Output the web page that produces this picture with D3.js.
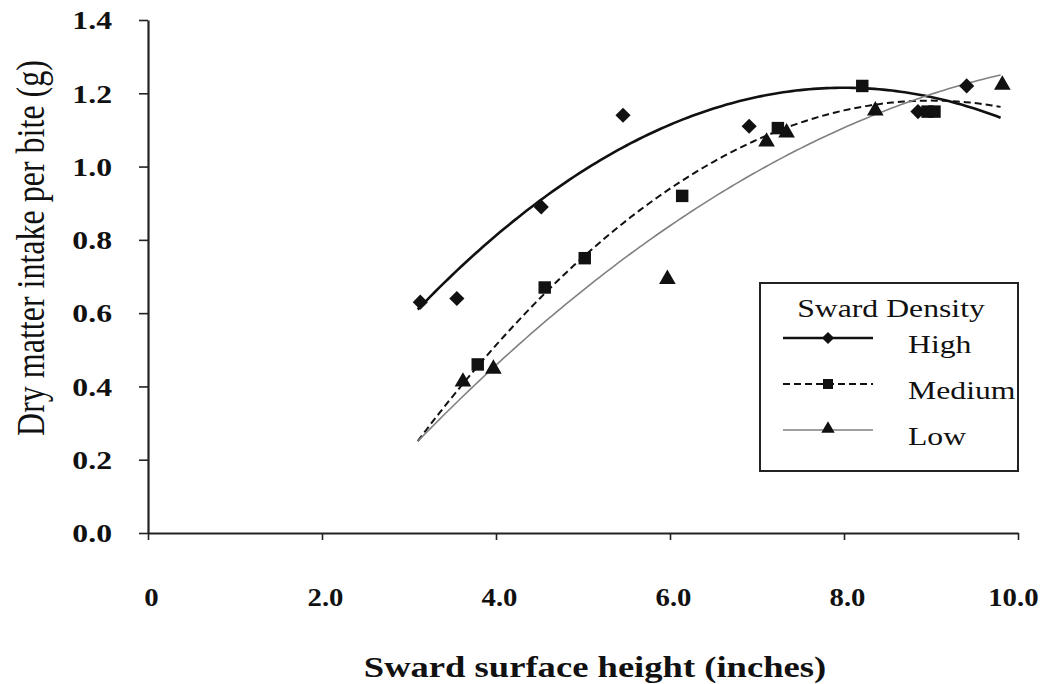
<!DOCTYPE html>
<html>
<head>
<meta charset="utf-8">
<script src="https://cdn.jsdelivr.net/npm/d3@7"></script>
<style>
  html, body { margin: 0; padding: 0; background: #fff; }
  svg { display: block; font-family: "Liberation Serif", "Times New Roman", serif; }
</style>
</head>
<body>
<svg id="chart" width="1040" height="684"></svg>
<script>
// ---- data ----
const seriesNames = ["High", "Medium", "Low"];
const highX = [3.13, 3.55, 4.52, 5.46, 6.91, 8.85, 9.41];
const highY = [0.63, 0.64, 0.89, 1.14, 1.11, 1.15, 1.22];
const mediumX = [3.79, 4.56, 5.02, 6.14, 7.24, 8.21, 8.96, 9.04];
const mediumY = [0.46, 0.67, 0.75, 0.92, 1.105, 1.22, 1.15, 1.15];
const lowX = [3.62, 3.97, 5.97, 7.11, 7.34, 8.36, 9.82];
const lowY = [0.41, 0.445, 0.69, 1.065, 1.09, 1.15, 1.22];
// quadratic trend-line coefficients [a, b, c] : y = a + b x + c x^2
const highFit = [-0.3978, 0.4032, -0.0252];
const mediumFit = [-0.9827, 0.4806, -0.0267];
const lowFit = [-0.6416, 0.3314, -0.01412];
const fitRange = [3.1, 9.8];
const xTickValues = [0, 2, 4, 6, 8, 10];
const xTickLabels = ["0", "2.0", "4.0", "6.0", "8.0", "10.0"];
const yTickValues = [0, 0.2, 0.4, 0.6, 0.8, 1.0, 1.2, 1.4];
const xTitle = "Sward surface height (inches)";
const yTitle = "Dry matter intake per bite (g)";
const legendTitle = "Sward Density";

// ---- drawing ----
const svg = d3.select("#chart");
const SX = 1.22; // horizontal stretch of the scanned text
const x = d3.scaleLinear().domain([0, 10]).range([148, 1018]);
const y = d3.scaleLinear().domain([0, 1.4]).range([533, 20]);

// axes
const xAxis = svg.append("g").attr("transform", "translate(0,533)")
  .call(d3.axisBottom(x).tickValues(xTickValues).tickSize(7).tickSizeOuter(0)
        .tickFormat((d, i) => xTickLabels[i]));
xAxis.select(".domain").attr("stroke", "#222").attr("stroke-width", 2.2);
xAxis.selectAll(".tick line").attr("stroke", "#222").attr("stroke-width", 1.6);
const nX = xTickValues.length;
xAxis.selectAll(".tick text")
  .attr("y", 0).attr("dy", null)
  .attr("text-anchor", (d, i) => i === nX - 1 ? "end" : "middle")
  .attr("transform", (d, i) => (i === nX - 1 ? "translate(20,73)" : "translate(3,73)") + " scale(1.15,1)")
  .attr("fill", "#111")
  .style("font-family", "'Liberation Serif', serif")
  .style("font-size", "25px").style("font-weight", "bold");

const yAxis = svg.append("g").attr("transform", "translate(148,0)")
  .call(d3.axisLeft(y).tickValues(yTickValues).tickSize(9).tickSizeOuter(0)
        .tickFormat(d3.format(".1f")));
yAxis.select(".domain").attr("stroke", "#222").attr("stroke-width", 2.2);
yAxis.selectAll(".tick line").attr("stroke", "#222").attr("stroke-width", 1.6);
yAxis.selectAll(".tick text")
  .attr("x", 0).attr("dy", "0.34em")
  .attr("transform", "translate(-36,0) scale(" + SX + ",1)")
  .attr("text-anchor", "end")
  .attr("fill", "#111")
  .style("font-family", "'Liberation Serif', serif")
  .style("font-size", "26px").style("font-weight", "bold");

// axis titles
svg.append("text")
  .attr("transform", "translate(595,677) scale(" + SX + ",1)")
  .attr("text-anchor", "middle")
  .style("font-size", "30px").style("font-weight", "bold").attr("fill", "#111")
  .text(xTitle);
svg.append("text")
  .attr("transform", "translate(44,248) scale(" + SX + ",1) rotate(-90)")
  .attr("text-anchor", "middle")
  .style("font-size", "32px").attr("fill", "#111")
  .text(yTitle);

// series config
const series = [
  { name: seriesNames[0], xs: highX, ys: highY, fit: highFit, sym: "diamond",
    stroke: "#111", width: 2.6, dash: null },
  { name: seriesNames[1], xs: mediumX, ys: mediumY, fit: mediumFit, sym: "square",
    stroke: "#111", width: 2, dash: "7,4" },
  { name: seriesNames[2], xs: lowX, ys: lowY, fit: lowFit, sym: "triangle",
    stroke: "#808080", width: 1.6, dash: null }
];

function symPath(kind, scale) {
  if (kind === "diamond") return d3.symbol().type(d3.symbolSquare).size(115 * scale)();
  if (kind === "square") return d3.symbol().type(d3.symbolSquare).size(155 * scale)();
  return d3.symbol().type(d3.symbolTriangle).size(120 * scale)();
}
function symTransform(kind, px, py) {
  if (kind === "diamond") return "translate(" + px + "," + py + ") rotate(45)";
  if (kind === "triangle") return "translate(" + px + "," + (py - 1) + ")";
  return "translate(" + px + "," + py + ")";
}

const line = d3.line().curve(d3.curveLinear);
series.forEach(s => {
  const fx = d3.range(fitRange[0], fitRange[1] + 1e-9, 0.05);
  const pts = fx.map(v => [x(v), y(s.fit[0] + s.fit[1] * v + s.fit[2] * v * v)]);
  svg.append("path").attr("d", line(pts))
    .attr("fill", "none").attr("stroke", s.stroke)
    .attr("stroke-width", s.width).attr("stroke-dasharray", s.dash);
});
series.forEach(s => {
  svg.append("g").selectAll("path").data(s.xs.map((v, i) => [v, s.ys[i]])).join("path")
    .attr("d", symPath(s.sym, 1))
    .attr("transform", d => symTransform(s.sym, x(d[0]), y(d[1])))
    .attr("fill", "#111");
});

// legend
const lg = svg.append("g");
lg.append("rect").attr("x", 760).attr("y", 283).attr("width", 258).attr("height", 188)
  .attr("fill", "#fff").attr("stroke", "#222").attr("stroke-width", 2);
lg.append("text")
  .attr("transform", "translate(891,317) scale(" + SX + ",1)")
  .attr("text-anchor", "middle").style("font-size", "26px").attr("fill", "#111")
  .text(legendTitle);
const legY = [338, 384, 430];
series.forEach((s, i) => {
  lg.append("line").attr("x1", 783).attr("x2", 873).attr("y1", legY[i]).attr("y2", legY[i])
    .attr("stroke", s.stroke).attr("stroke-width", s.width).attr("stroke-dasharray", s.dash);
  lg.append("path").attr("d", symPath(s.sym, 0.65))
    .attr("transform", symTransform(s.sym, 828, legY[i]))
    .attr("fill", "#111");
  lg.append("text")
    .attr("transform", "translate(908," + (legY[i] + 15) + ") scale(" + SX + ",1)")
    .style("font-size", "26px").attr("fill", "#111")
    .text(s.name);
});
</script>
</body>
</html>
